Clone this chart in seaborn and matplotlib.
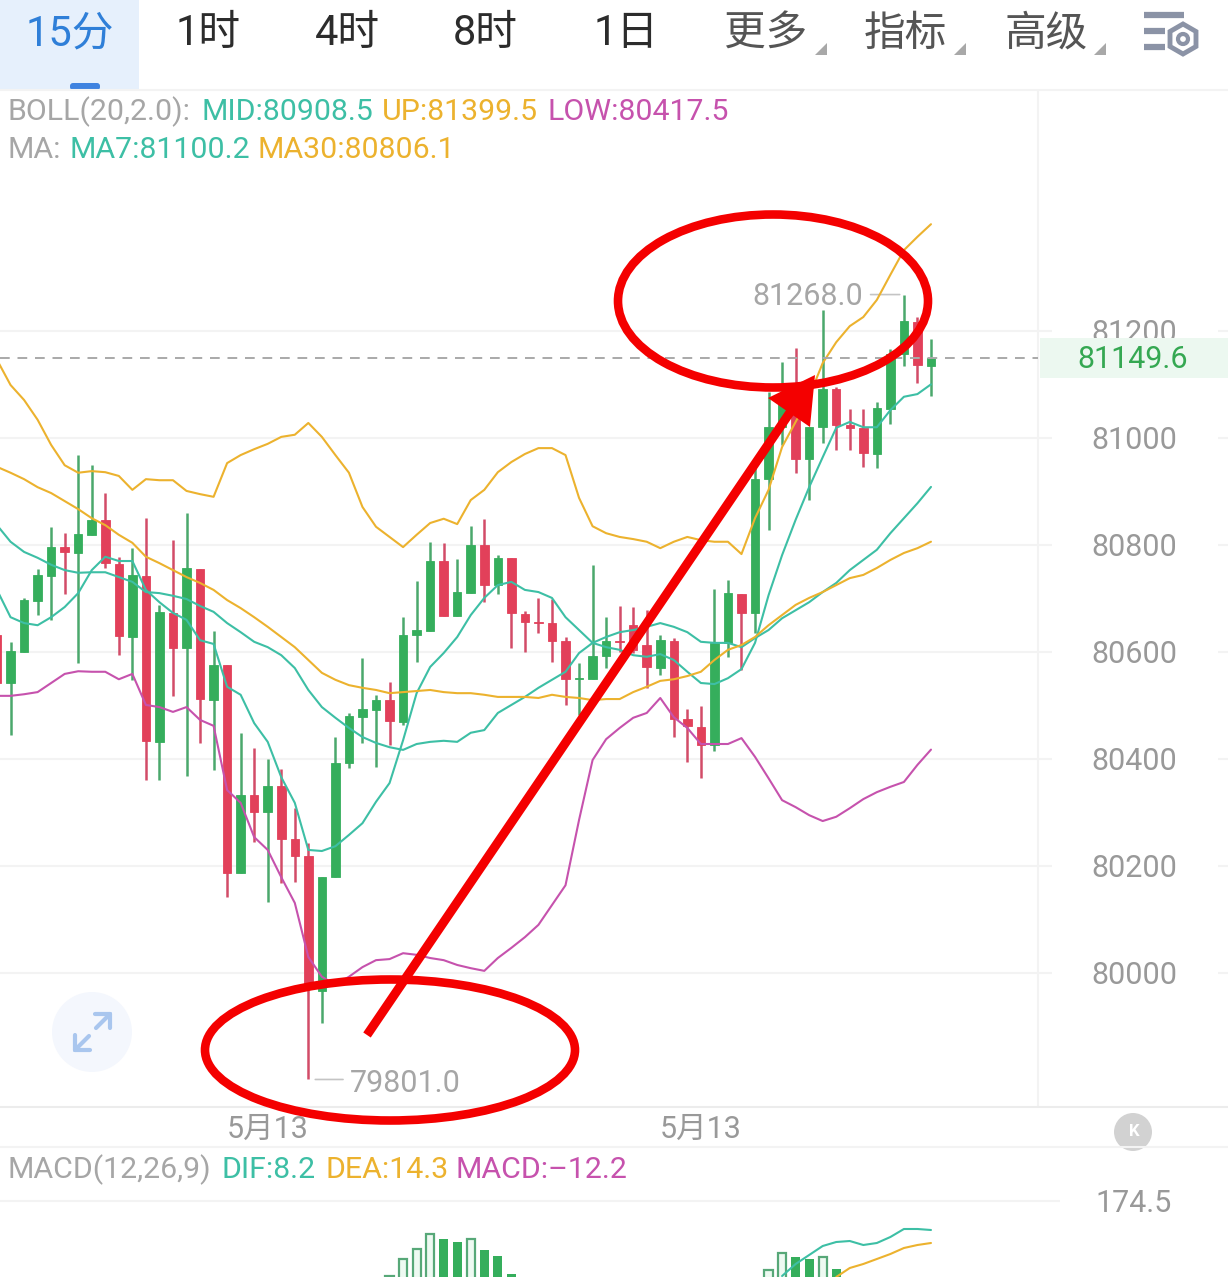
import matplotlib

matplotlib.use("Agg")
import matplotlib.pyplot as plt
from matplotlib.patches import Circle, Ellipse, Polygon, Rectangle, FancyBboxPatch
import numpy as np
import pandas as pd
import seaborn as sns

W, H = 1228, 1277

opens = [80632, 80542, 80600, 80695, 80742, 80796, 80785, 80819, 80847, 80764,
         80628, 80742, 80432, 80673, 80607, 80755, 80510, 80576, 80187, 80333,
         80301, 80350, 80250, 80219, 79966, 80179, 80392, 80478, 80492, 80510,
         80469, 80632, 80639, 80770, 80667, 80710, 80800, 80725, 80776, 80671,
         80656, 80654, 80620, 80549, 80549, 80592, 80620, 80650, 80613, 80570,
         80620, 80475, 80460, 80426, 80617, 80708, 80673, 80923, 81020, 81071,
         80961, 81020, 81091, 81024, 81019, 80970, 81054, 81157, 81217, 81134]
closes = [80542, 80602, 80697, 80744, 80796, 80787, 80820, 80847, 80766, 80630,
          80744, 80434, 80675, 80607, 80757, 80512, 80576, 80187, 80333, 80301,
          80350, 80250, 80219, 79978, 80179, 80392, 80480, 80493, 80510, 80471,
          80632, 80641, 80770, 80667, 80712, 80800, 80725, 80776, 80673, 80656,
          80654, 80620, 80549, 80551, 80592, 80620, 80618, 80604, 80572, 80622,
          80475, 80462, 80426, 80617, 80710, 80673, 80923, 81020, 81084, 80961,
          81020, 81091, 81024, 81019, 80972, 81056, 81157, 81219, 81136, 81149.6]
highs = [80635, 80619, 80701, 80755, 80834, 80822, 80968, 80949, 80897, 80778,
         80794, 80850, 80688, 80809, 80860, 80755, 80639, 80576, 80449, 80421,
         80400, 80381, 80308, 80243, 80179, 80441, 80486, 80589, 80520, 80544,
         80665, 80733, 80806, 80804, 80774, 80835, 80849, 80781, 80776, 80677,
         80701, 80699, 80628, 80579, 80763, 80665, 80686, 80684, 80678, 80632,
         80626, 80493, 80499, 80718, 80735, 80708, 80946, 81086, 81142, 81168,
         81020, 81239, 81095, 81054, 81054, 81067, 81166, 81268, 81226, 81185]
lows = [80542, 80445, 80600, 80669, 80660, 80708, 80579, 80819, 80757, 80594,
        80548, 80361, 80361, 80518, 80368, 80430, 80379, 80142, 80187, 80245,
        80133, 80168, 80170, 79801, 79907, 80179, 80383, 80430, 80385, 80426,
        80464, 80581, 80639, 80667, 80667, 80710, 80693, 80708, 80607, 80600,
        80635, 80581, 80501, 80482, 80549, 80570, 80600, 80598, 80533, 80557,
        80441, 80394, 80364, 80415, 80591, 80566, 80635, 80828, 80987, 80935,
        80884, 80991, 80977, 80977, 80946, 80944, 81026, 81134, 81103, 81078]

boll_up = [81146, 81099, 81071, 81034, 80987, 80949, 80935, 80938, 80936, 80929,
           80903, 80923, 80921, 80921, 80901, 80895, 80890, 80953, 80968, 80979,
           80989, 81002, 81006, 81028, 81002, 80968, 80935, 80871, 80834, 80815,
           80796, 80819, 80841, 80849, 80839, 80884, 80903, 80936, 80955, 80970,
           80981, 80981, 80968, 80888, 80835, 80822, 80815, 80811, 80806, 80794,
           80806, 80815, 80809, 80806, 80806, 80783, 80850, 80903, 80983, 81030,
           81077, 81140, 81179, 81209, 81226, 81258, 81305, 81351, 81376, 81399.5]
boll_mid = [80837, 80806, 80787, 80776, 80763, 80753, 80748, 80749, 80749, 80740,
            80731, 80712, 80710, 80705, 80699, 80686, 80675, 80654, 80637, 80619,
            80609, 80594, 80570, 80529, 80497, 80477, 80458, 80441, 80430, 80422,
            80417, 80428, 80432, 80434, 80432, 80449, 80454, 80486, 80501, 80516,
            80533, 80548, 80563, 80598, 80617, 80628, 80637, 80641, 80647, 80654,
            80647, 80637, 80619, 80617, 80617, 80609, 80626, 80641, 80663, 80678,
            80693, 80712, 80729, 80753, 80772, 80791, 80822, 80850, 80878, 80908.5]
boll_low = [80518, 80518, 80521, 80525, 80542, 80559, 80564, 80563, 80563, 80549,
            80559, 80501, 80497, 80488, 80497, 80473, 80462, 80342, 80318, 80254,
            80230, 80179, 80131, 80030, 79993, 79978, 79993, 80011, 80024, 80026,
            80037, 80034, 80028, 80024, 80015, 80009, 80004, 80028, 80047, 80067,
            80090, 80127, 80164, 80286, 80398, 80437, 80458, 80477, 80486, 80514,
            80478, 80458, 80428, 80428, 80428, 80439, 80404, 80364, 80323, 80310,
            80295, 80284, 80292, 80308, 80325, 80338, 80348, 80357, 80389, 80417.5]
ma7 = [80716, 80665, 80654, 80650, 80665, 80684, 80710, 80753, 80778, 80770,
       80770, 80716, 80693, 80673, 80660, 80622, 80615, 80535, 80520, 80467,
       80432, 80366, 80318, 80230, 80228, 80237, 80258, 80280, 80320, 80355,
       80435, 80523, 80572, 80598, 80628, 80669, 80701, 80725, 80731, 80716,
       80712, 80701, 80665, 80641, 80617, 80609, 80604, 80594, 80591, 80596,
       80585, 80563, 80542, 80540, 80551, 80568, 80617, 80706, 80781, 80847,
       80908, 80964, 81019, 81030, 81020, 81020, 81052, 81077, 81082, 81100.2]
ma30 = [80946, 80935, 80923, 80908, 80897, 80882, 80867, 80850, 80837, 80819,
        80804, 80778, 80766, 80753, 80740, 80729, 80716, 80697, 80682, 80665,
        80647, 80628, 80609, 80585, 80561, 80548, 80538, 80533, 80529, 80523,
        80525, 80527, 80529, 80525, 80523, 80523, 80520, 80516, 80516, 80516,
        80514, 80520, 80516, 80514, 80510, 80512, 80512, 80525, 80535, 80546,
        80549, 80555, 80563, 80585, 80604, 80613, 80628, 80650, 80669, 80688,
        80701, 80712, 80725, 80738, 80744, 80757, 80772, 80785, 80794, 80806.1]

price_ticks = [80000, 80200, 80400, 80600, 80800, 81000, 81200]
date_ticks = [20, 52]
date_labels = ["5月13", "5月13"]
last_price = 81149.6

macd_pos = [29, 30, 31, 32, 33, 34, 35, 36, 37, 38, 57, 58, 59, 60, 61, 62]
macd_vals = [62, 87.5, 102.5, 125, 117.5, 113, 117.5, 101, 92, 65, 71, 96.5, 90.5, 87.5, 90.5, 72.5]
macd_hollow = [True, True, True, True, False, False, True, False, False, False,
               True, True, False, False, True, False]
dif_pos = [58, 59, 60, 61, 62, 63, 64, 65, 66, 67, 68, 69]
dif_vals = [62, 80, 93.5, 107, 113, 114.5, 108.5, 111.5, 120.5, 132.5, 132.5, 131]
dea_pos = [62, 63, 64, 65, 66, 67, 68, 69]
dea_vals = [60.5, 74, 80, 87.5, 95, 104, 108.5, 111.5]

tabs = ["15分", "1时", "4时", "8时", "1日", "更多", "指标", "高级"]
tab_x = [70, 208, 347, 485, 626, 766, 905, 1046]
tab_colors = ["#2f7fd8", "#2c2c2c", "#2c2c2c", "#2c2c2c", "#2c2c2c", "#555555", "#555555", "#555555"]

TEAL = "#3dbfa5"
YELLOW = "#ecb22e"
MAGENTA = "#c652ad"
GREY = "#a6a6a6"
GREEN = "#35ae5c"
RED = "#e2405a"
LINE = "#f3f3f3"
CROSS = "#f40000"


def idx_of(px):
    return (px + 3) / 13.536


def price_of(py):
    return 80000 + (973 - py) * 1.869


def macd_of(py):
    return 174.5 - (py - 1201) * 1.5


def add_axes(top, bottom):
    return fig.add_axes([0, 1 - bottom / H, 1, (bottom - top) / H])


def right_ticks(ax, ticks, labels, pad):
    ax.set_yticks(ticks)
    ax.set_yticklabels(labels)
    ax.tick_params(axis="y", left=False, right=False, labelleft=False, labelright=True,
                   labelsize=22, labelcolor="#999999", pad=pad)
    for t in ax.yaxis.get_major_ticks():
        t.label2.set_ha("right")


def draw_candles(ax):
    x = np.arange(len(opens))
    o, c, h, l = map(np.array, (opens, closes, highs, lows))
    up = c >= o
    colors = np.where(up, GREEN, RED)
    wicks = np.where(up, "#4aa86c", "#d24c68")
    ax.vlines(x, l, h, colors=wicks, linewidth=1.8, zorder=2)
    ax.bar(x, np.abs(c - o), bottom=np.minimum(o, c), width=0.63, color=colors,
           edgecolor=colors, linewidth=0.6, zorder=3)


sns.set_theme(style="white")
plt.rcParams["font.family"] = ["Roboto", "Noto Sans CJK SC", "DejaVu Sans"]

fig = plt.figure(figsize=(W / 100, H / 100), dpi=100, facecolor="white")

# main chart
ax = add_axes(90, 1107)
ax.set_xlim(idx_of(0), idx_of(W))
ax.set_ylim(price_of(1107), price_of(90))
sns.despine(ax=ax, left=True, bottom=True)
ax.set_facecolor("white")

ax.hlines(price_ticks, idx_of(0), idx_of(1052), color=LINE, linewidth=1.5, zorder=0)
ax.hlines(price_ticks, idx_of(1218), idx_of(W), color=LINE, linewidth=1.5, zorder=0)
ax.axvline(idx_of(1038), color=LINE, linewidth=1.5, zorder=0)
draw_candles(ax)

lines = pd.DataFrame({"UP": boll_up, "MID": boll_mid, "LOW": boll_low, "MA7": ma7, "MA30": ma30})
lines["i"] = np.arange(len(lines))
long = lines.melt(id_vars="i", var_name="line", value_name="price")
sns.lineplot(data=long, x="i", y="price", hue="line", estimator=None, legend=False, ax=ax,
             palette={"UP": YELLOW, "MID": TEAL, "LOW": MAGENTA, "MA7": TEAL, "MA30": YELLOW},
             linewidth=1.5, zorder=4)

ax.hlines(last_price, idx_of(0), idx_of(1038), color="#a9a9a9", linewidth=1.4,
          linestyles=(0, (5, 4)), zorder=5)

right_ticks(ax, price_ticks, [str(p) for p in price_ticks], -42.5)
ax.set_xticks(date_ticks)
ax.set_xticklabels(date_labels)
ax.tick_params(axis="x", bottom=False, labelsize=22, labelcolor="#999999", pad=0)
ax.set_xlabel("")
ax.set_ylabel("")

hi = int(np.argmax(highs))
lo = int(np.argmin(lows))
ax.annotate("", xy=(hi, highs[hi]), xytext=(-24, 0), textcoords="offset points",
            xycoords="data", arrowprops=dict(arrowstyle="-", color="#c4c4c4", lw=1.2, shrinkA=0, shrinkB=3))
ax.annotate(f"{highs[hi]:.1f}", xy=(hi, highs[hi]), xytext=(-29.5, -1.5), textcoords="offset points",
            ha="right", va="center", fontsize=22, color=GREY, zorder=6)
ax.annotate("", xy=(lo, lows[lo]), xytext=(25, 0), textcoords="offset points",
            arrowprops=dict(arrowstyle="-", color="#c4c4c4", lw=1.2, shrinkA=0, shrinkB=5))
ax.annotate(f"{lows[lo]:.1f}", xy=(lo, lows[lo]), xytext=(30, -3), textcoords="offset points",
            ha="left", va="center", fontsize=22, color=GREY, zorder=6)

# macd panel
ax2 = add_axes(1147, H)
ax2.set_xlim(idx_of(0), idx_of(W))
ax2.set_ylim(macd_of(H), macd_of(1147))
sns.despine(ax=ax2, left=True, bottom=True)
ax2.set_xticks([])
ax2.hlines(174.5, idx_of(0), idx_of(1060), color=LINE, linewidth=1.5, zorder=0)
bottom = macd_of(H + 20)
for p, v, hollow in zip(macd_pos, macd_vals, macd_hollow):
    ax2.bar(p, v - bottom, bottom=bottom, width=0.66 if not hollow else 0.6,
            color="#eefaf2" if hollow else GREEN, edgecolor="#57a878" if hollow else GREEN,
            linewidth=1.6 if hollow else 0, zorder=2)
sns.lineplot(x=dif_pos, y=dif_vals, color=TEAL, linewidth=1.5, ax=ax2, zorder=3)
sns.lineplot(x=dea_pos, y=dea_vals, color=YELLOW, linewidth=1.5, ax=ax2, zorder=3)
right_ticks(ax2, [174.5], ["174.5"], -46.8)
ax2.set_ylabel("")

# toolbar, labels and the hand-drawn marks, in screen pixels
ui = fig.add_axes([0, 0, 1, 1], facecolor="none")
ui.set_xlim(0, W)
ui.set_ylim(H, 0)
ui.axis("off")

ui.add_patch(Rectangle((0, 0), 139, 90, color="#e6f0fc", lw=0))
ui.add_patch(FancyBboxPatch((70, 83), 30, 7, boxstyle="round,pad=0,rounding_size=3", color="#3f83e0", lw=0))
ui.plot([0, W], [90, 90], color=LINE, lw=1.5)
ui.plot([0, W], [1107, 1107], color="#ececec", lw=1.5)
ui.plot([0, W], [1147, 1147], color=LINE, lw=1.5)

for label, x, col in zip(tabs, tab_x, tab_colors):
    ui.text(x, 34, label, ha="center", va="center", fontsize=30, color=col)
for x in [815, 954, 1094]:
    ui.add_patch(Polygon([[x + 12, 43], [x + 12, 55], [x, 55]], color="#a8a8a8", lw=0))

for y, x0, x1 in [(15, 1144, 1184), (31, 1144, 1165), (47, 1144, 1165)]:
    ui.plot([x0, x1], [y, y], color="#8b93a6", lw=4.5, solid_capstyle="butt")
ang = np.deg2rad(np.arange(30, 390, 60))
ui.add_patch(Polygon(np.c_[1183 + 15 * np.cos(ang), 39 + 15 * np.sin(ang)], fill=False, ec="#8b93a6", lw=3.5))
ui.add_patch(Circle((1183, 39), 5, fill=False, ec="#8b93a6", lw=3))

header = [
    (7, 112, "BOLL(20,2.0):", GREY), (202, 112, "MID:80908.5", TEAL),
    (382, 112, "UP:81399.5", YELLOW), (547, 112, "LOW:80417.5", MAGENTA),
    (7, 150, "MA:", GREY), (69, 150, "MA7:81100.2", TEAL), (257, 150, "MA30:80806.1", YELLOW),
    (7, 1170, "MACD(12,26,9)", GREY), (221, 1170, "DIF:8.2", TEAL),
    (325, 1170, "DEA:14.3", YELLOW), (456, 1170, "MACD:–12.2", MAGENTA),
]
for x, y, s, col in header:
    ui.text(x, y, s, ha="left", va="center", fontsize=21.8, color=col)

# price tag sits over the 81200 label
ui.add_patch(Rectangle((1040, 338), 188, 40, color="#ecf8f0", lw=0))
ui.text(1133, 360, f"{last_price}", ha="center", va="center", fontsize=22, color="#35a852")

# expand button
ui.add_patch(Circle((92, 1032), 40, color="#f4f7fd", lw=0))
for pts in ([(96, 1028), (110, 1014)], [(95, 1014), (110, 1014)], [(110, 1014), (110, 1028)],
            [(89, 1036), (75, 1050)], [(75, 1035), (75, 1050)], [(75, 1050), (90, 1050)]):
    ui.plot(*zip(*pts), color="#a9c6ee", lw=3, solid_capstyle="round")

# collapse button
ui.add_patch(Circle((1133, 1132), 19, color="#d2d2d2", lw=0))
ui.text(1134, 1132, "K", ha="center", va="center", fontsize=12, fontweight="bold", color="white")

# red markup
ui.add_patch(Ellipse((773, 301), 310, 173, fill=False, ec=CROSS, lw=6.2, zorder=8))
ui.add_patch(Ellipse((390, 1050), 370, 141, fill=False, ec=CROSS, lw=6.2, zorder=8))
ui.plot([367, 795], [1035, 405], color=CROSS, lw=6.5, solid_capstyle="butt", zorder=8)
ui.add_patch(Polygon([[768, 398], [815, 375], [810, 427]], color=CROSS, lw=0, zorder=8))

fig.savefig("out.png", dpi=100)
